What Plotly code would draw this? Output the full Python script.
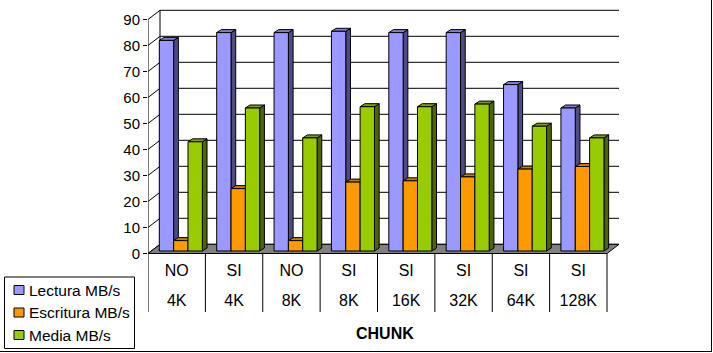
import plotly.graph_objects as go

# ---------------- data ----------------
row1 = ["NO", "SI", "NO", "SI", "SI", "SI", "SI", "SI"]
row2 = ["4K", "4K", "8K", "8K", "16K", "32K", "64K", "128K"]
series_names = ["Lectura MB/s", "Escritura MB/s", "Media MB/s"]
lectura = [81, 84, 84, 84.5, 84, 84, 64, 55]
escritura = [4, 24, 4, 26.5, 27, 28.5, 31.5, 32.5]
media = [42, 55, 43.5, 55.5, 55.5, 56.5, 48, 43.5]
y_ticks = [0, 10, 20, 30, 40, 50, 60, 70, 80, 90]
x_title = "CHUNK"

# ---------------- style ----------------
front_cols = ["#9999FF", "#FF9900", "#99CC00"]
top_cols = ["#7F7FD4", "#CC7A00", "#7AA300"]
side_cols = ["#4D4D80", "#804D00", "#4D6600"]
FONT = "Liberation Sans, Arial, sans-serif"

# pixel geometry -> data units
L, T, PW, PH = 148, 5, 472, 310
CAT_PX = 57.375
Y_PX = 2.6
y_top = (253.5 - T) / Y_PX
y_bot = y_top - PH / Y_PX
x_lo = -0.5
x_hi = -0.5 + PW / CAT_PX
DX, DY = 12 / CAT_PX, 9.2 / Y_PX          # wall depth
BX, BY = 0.072, 2.5 / Y_PX                 # bar placement inside depth
ddx, ddy = 4.7 / CAT_PX, 3.0 / Y_PX        # bar depth
W = 0.25
offs = [-0.25, 0.0, 0.25]
n = len(row1)

def px_x(p):
    return (p - L) / PW

def px_y(p):
    return (T + PH - p) / PH

fig = go.Figure()

def poly(xs, ys, fill, lw=1):
    fig.add_trace(go.Scatter(x=xs, y=ys, mode="lines", fill="toself",
                             fillcolor=fill, line=dict(color="black", width=lw),
                             hoverinfo="skip", showlegend=False))

def lines(xs, ys):
    fig.add_trace(go.Scatter(x=xs, y=ys, mode="lines",
                             line=dict(color="black", width=1),
                             hoverinfo="skip", showlegend=False))

# back wall gridlines + left wall diagonals
gx, gy = [], []
for v in y_ticks:
    gx += [x_lo + DX, n - 0.5 + DX, None, x_lo, x_lo + DX, None]
    gy += [v + DY, v + DY, None, v, v + DY, None]
gx += [x_lo + DX, x_lo + DX, None, x_lo, x_lo]
gy += [DY, y_ticks[-1] + DY, None, 0, y_ticks[-1]]
lines(gx, gy)

# floor
poly([x_lo, n - 0.5, n - 0.5 + DX, x_lo + DX, x_lo], [0, 0, DY, DY, 0], "#808080")

# category dividers
dx_, dy_ = [], []
for i in range(n + 1):
    dx_ += [i - 0.5, i - 0.5, None]
    dy_ += [0, (253.5 - 312) / Y_PX, None]
lines(dx_, dy_)

# bars
for s, vals in enumerate([lectura, escritura, media]):
    sx, sy, tx, ty, fx, fy = [], [], [], [], [], []
    for i, v in enumerate(vals):
        x0 = i + offs[s] - W / 2 + BX
        x1 = x0 + W
        y0, y1 = BY, BY + v
        sx += [x1, x1 + ddx, x1 + ddx, x1, x1, None]
        sy += [y0, y0 + ddy, y1 + ddy, y1, y0, None]
        tx += [x0, x1, x1 + ddx, x0 + ddx, x0, None]
        ty += [y1, y1, y1 + ddy, y1 + ddy, y1, None]
        fx += [x0, x1, x1, x0, x0, None]
        fy += [y0, y0, y1, y1, y0, None]
    poly(sx, sy, side_cols[s])
    poly(tx, ty, top_cols[s])
    poly(fx, fy, front_cols[s])

# category labels
cx = list(range(n))
fig.add_trace(go.Scatter(x=cx, y=[(253.5 - 272) / Y_PX] * n, mode="text", text=row1,
                         textfont=dict(family=FONT, size=16, color="black"),
                         hoverinfo="skip", showlegend=False, cliponaxis=False))
fig.add_trace(go.Scatter(x=cx, y=[(253.5 - 302) / Y_PX] * n, mode="text", text=row2,
                         textfont=dict(family=FONT, size=16, color="black"),
                         hoverinfo="skip", showlegend=False, cliponaxis=False))

shapes = []
annotations = []
# legend (manual)
shapes.append(dict(type="rect", xref="paper", yref="paper",
                   x0=px_x(4.5), x1=px_x(134.5), y0=px_y(348.5), y1=px_y(277),
                   line=dict(color="black", width=1), fillcolor="white"))
for k, (name, yc) in enumerate(zip(series_names, [290, 312.5, 335])):
    shapes.append(dict(type="rect", xref="paper", yref="paper",
                       x0=px_x(14), x1=px_x(24), y0=px_y(yc + 4.5), y1=px_y(yc - 4.5),
                       line=dict(color="black", width=1), fillcolor=front_cols[k]))
    annotations.append(dict(text=name, xref="paper", yref="paper", x=px_x(27), y=px_y(yc),
                            xanchor="left", yanchor="middle", showarrow=False,
                            font=dict(family=FONT, size=15.5, color="black")))
# axis title
annotations.append(dict(text="<b>" + x_title + "</b>", xref="paper", yref="paper",
                        x=px_x(385), y=px_y(333), xanchor="center", yanchor="middle",
                        showarrow=False, font=dict(family=FONT, size=16, color="black")))
# outer border (right & bottom)
shapes.append(dict(type="line", xref="paper", yref="paper",
                   x0=px_x(711.5), x1=px_x(711.5), y0=px_y(0), y1=px_y(352),
                   line=dict(color="black", width=1)))
shapes.append(dict(type="line", xref="paper", yref="paper",
                   x0=px_x(0), x1=px_x(712), y0=px_y(351.5), y1=px_y(351.5),
                   line=dict(color="black", width=1)))

fig.update_layout(
    width=713, height=353,
    margin=dict(l=L, r=713 - L - PW, t=T, b=353 - T - PH),
    paper_bgcolor="white", plot_bgcolor="white",
    showlegend=False,
    shapes=shapes, annotations=annotations,
    xaxis=dict(range=[x_lo, x_hi], visible=False, fixedrange=True),
    yaxis=dict(range=[y_bot, y_top], tickvals=y_ticks, ticks="outside", ticklen=4,
               tickcolor="black", tickwidth=1, showgrid=False, zeroline=False,
               showline=False, tickfont=dict(family=FONT, size=15, color="black"),
               fixedrange=True),
    font=dict(family=FONT, color="black"),
)

fig.write_html("out.html")
